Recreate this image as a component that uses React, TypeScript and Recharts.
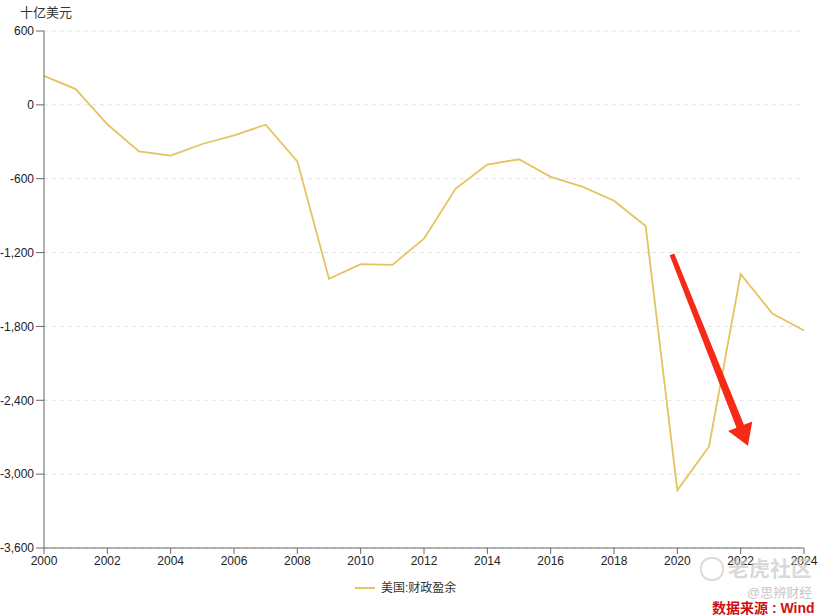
import React from "react";
import { LineChart, Line, XAxis, YAxis, CartesianGrid, ReferenceLine } from "recharts";

const years = [
  2000, 2001, 2002, 2003, 2004, 2005, 2006, 2007, 2008, 2009, 2010, 2011, 2012,
  2013, 2014, 2015, 2016, 2017, 2018, 2019, 2020, 2021, 2022, 2023, 2024,
];
const surplus = [
  236, 128, -158, -378, -413, -318, -248, -161, -459, -1413, -1294, -1300, -1087,
  -680, -485, -442, -585, -665, -779, -984, -3132, -2775, -1375, -1695, -1833,
];
const xTicks = [2000, 2002, 2004, 2006, 2008, 2010, 2012, 2014, 2016, 2018, 2020, 2022, 2024];
const yTicks = [600, 0, -600, -1200, -1800, -2400, -3000, -3600];
// arrow annotation, in data units: start -> tip
const arrowFrom = { x: 2019.83, y: -1215 };
const arrowTo = { x: 2022.23, y: -2770 };

const data = years.map((y, i) => ({ year: y, value: surplus[i] }));

const FONT = "'Liberation Sans', Arial, 'Noto Sans CJK SC', sans-serif";
const LINE = "#e5c35e";
const AXIS = "#666";

function Arrow(props: any) {
  const { x1, y1, x2, y2 } = props;
  const dx = x2 - x1;
  const dy = y2 - y1;
  const len = Math.sqrt(dx * dx + dy * dy);
  const ux = dx / len;
  const uy = dy / len;
  const nx = -uy;
  const ny = ux;
  const head = 21;
  const halfHead = 13;
  const bx = x2 - ux * head;
  const by = y2 - uy * head;
  const w0 = 2.5;
  const w1 = 4;
  const pts = [
    [x1 + nx * w0, y1 + ny * w0],
    [bx + nx * w1, by + ny * w1],
    [bx + nx * halfHead, by + ny * halfHead],
    [x2, y2],
    [bx - nx * halfHead, by - ny * halfHead],
    [bx - nx * w1, by - ny * w1],
    [x1 - nx * w0, y1 - ny * w0],
  ];
  return <polygon points={pts.map((p) => p.join(",")).join(" ")} fill="#f62a17" />;
}

const fmt = (v: number) => v.toLocaleString("en-US");

export default function App() {
  return (
    <div style={{ position: "absolute", left: 0, top: 0, width: 830, height: 616, background: "#fff", fontFamily: FONT, overflow: "hidden" }}>
      <div style={{ position: "absolute", left: 20, top: 5, fontSize: 13, lineHeight: "16px", color: "#333" }}>十亿美元</div>
      <LineChart width={830} height={616} data={data} margin={{ top: 31, right: 26, bottom: 38, left: 0 }}>
        <CartesianGrid vertical={false} stroke="#e2e2e2" strokeDasharray="4 4" />
        <XAxis
          dataKey="year"
          type="number"
          domain={[2000, 2024]}
          ticks={xTicks}
          height={30}
          stroke={AXIS}
          tickSize={6}
          tick={{ fill: "#222", fontSize: 12, fontFamily: FONT }}
        />
        <YAxis
          type="number"
          domain={[-3600, 600]}
          ticks={yTicks}
          width={44}
          stroke={AXIS}
          tickSize={8}
          tickFormatter={fmt}
          tick={{ fill: "#222", fontSize: 12, fontFamily: FONT }}
        />
        <Line
          type="linear"
          dataKey="value"
          stroke={LINE}
          strokeWidth={1.8}
          dot={false}
          isAnimationActive={false}
        />
        <ReferenceLine segment={[arrowFrom, arrowTo]} shape={Arrow} ifOverflow="visible" />
      </LineChart>
      <div style={{ position: "absolute", left: 355, top: 580, display: "flex", alignItems: "center", fontSize: 12, lineHeight: "16px", color: "#333" }}>
        <span style={{ display: "inline-block", width: 20, height: 2, background: LINE, marginRight: 6 }} />
        美国:财政盈余
      </div>
      <div style={{ position: "absolute", left: 700, top: 557, width: 20, height: 20, borderRadius: 11, border: "2px solid #dcdcdc" }} />
      <div style={{ position: "absolute", left: 728, top: 556, fontSize: 21, lineHeight: "26px", fontWeight: 700, color: "rgba(200,200,200,0.7)" }}>
        老虎社区
      </div>
      <div style={{ position: "absolute", left: 747, top: 586, fontSize: 13, lineHeight: "14px", color: "#c8c8c8" }}>@思辨财经</div>
      <div style={{ position: "absolute", left: 712, top: 601, fontSize: 14, lineHeight: "15px", color: "#d0100e", fontWeight: 700, whiteSpace: "nowrap" }}>
        数据来源 : Wind
      </div>
    </div>
  );
}
